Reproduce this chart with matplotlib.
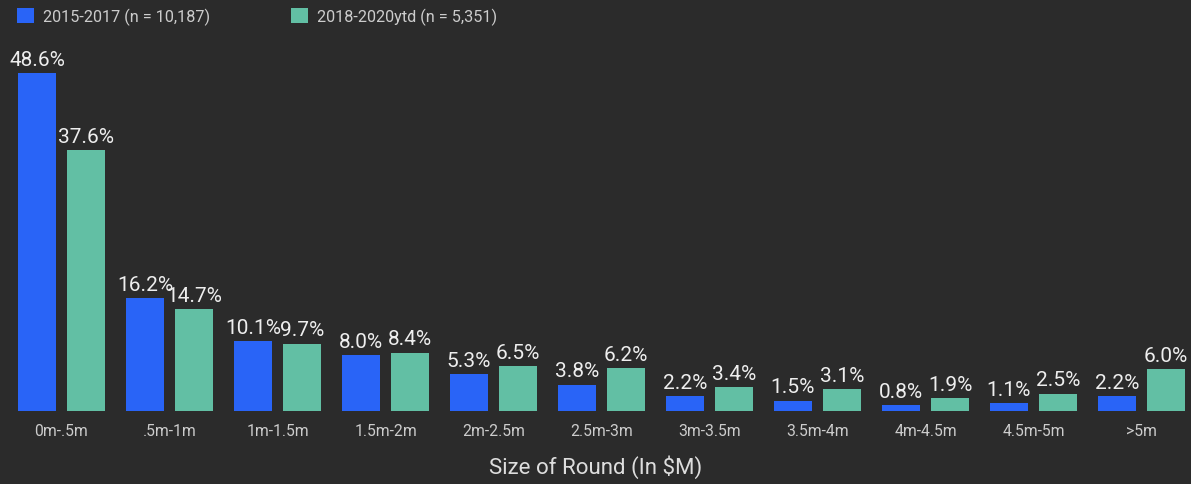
import matplotlib
matplotlib.use('Agg')
import matplotlib.pyplot as plt
import numpy as np

plt.rcParams['font.family'] = ['Roboto', 'DejaVu Sans']

BG = '#2b2b2b'
BLUE = '#2964f7'
TEAL = '#62bfa4'

rounds = ['0m-.5m', '.5m-1m', '1m-1.5m', '1.5m-2m', '2m-2.5m', '2.5m-3m',
          '3m-3.5m', '3.5m-4m', '4m-4.5m', '4.5m-5m', '>5m']
share_2015_2017 = [48.6, 16.2, 10.1, 8.0, 5.3, 3.8, 2.2, 1.5, 0.8, 1.1, 2.2]
share_2018_2020 = [37.6, 14.7, 9.7, 8.4, 6.5, 6.2, 3.4, 3.1, 1.9, 2.5, 6.0]
series_names = ['2015-2017 (n = 10,187)', '2018-2020ytd (n = 5,351)']

fig = plt.figure(figsize=(11.91, 4.85), dpi=100, facecolor=BG)
# baseline of the bars sits at 412 px from the top
ax = fig.add_axes([0, 1 - 412 / 485, 1, 412 / 485])
ax.set_facecolor(BG)

x = np.arange(len(rounds))
w = 0.35
off = 0.227
b1 = ax.bar(x - off, share_2015_2017, w, color=BLUE, label=series_names[0])
b2 = ax.bar(x + off, share_2018_2020, w, color=TEAL, label=series_names[1])

for bars, vals in ((b1, share_2015_2017), (b2, share_2018_2020)):
    for r, v in zip(bars, vals):
        ax.annotate(f'{v:.1f}%', (r.get_x() + r.get_width() / 2, v),
                    xytext=(0, 3), textcoords='offset points',
                    ha='center', va='bottom', fontsize=15, color='#eeeeee')

ax.set_xlim(-61.5 / 108, (1191 - 61.5) / 108)
ax.set_ylim(0, 412 / 6.95)
ax.set_yticks([])
ax.set_xticks(x)
ax.set_xticklabels(rounds, fontsize=11.3, color='#cccccc')
ax.tick_params(axis='x', length=0, pad=9)
for s in ax.spines.values():
    s.set_visible(False)

fig.text(0.5, 1 - 467 / 485, 'Size of Round (In $M)', ha='center', va='center',
         fontsize=16, color='#dddddd')

leg = fig.legend(loc='upper left', bbox_to_anchor=(0.002, 1.012), ncol=2,
                 frameon=False, handlelength=1.05, handleheight=1.05,
                 handletextpad=0.55, columnspacing=5.0, fontsize=11.7)
for t in leg.get_texts():
    t.set_color('#cccccc')

fig.savefig('out.png', dpi=100, facecolor=BG)
